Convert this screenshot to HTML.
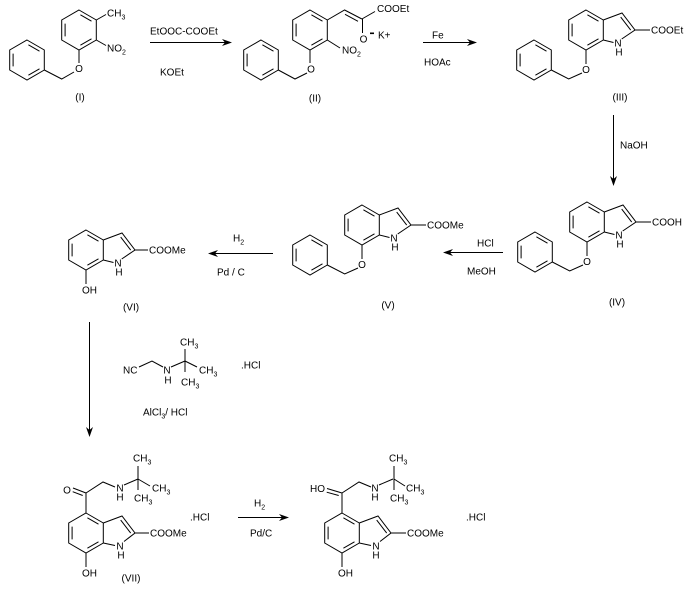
<!DOCTYPE html>
<html><head><meta charset="utf-8"><style>
html,body{margin:0;padding:0;background:#fff;}
svg{display:block;}
text{font-family:"Liberation Sans",Arial,sans-serif;font-size:10px;fill:#000;}
.m{text-anchor:middle;}
</style></head><body>
<svg width="688" height="595" viewBox="0 0 688 595" xmlns="http://www.w3.org/2000/svg">
<rect width="688" height="595" fill="#fff"/>
<g stroke="#000" stroke-width="1" fill="none">
<!-- I -->
<path d="M79,10 L96.3,20 L96.3,40 L79,50 L61.7,40 L61.7,20 Z M80.4,14.8 L91.5,21.2 M91.5,38.8 L80.4,45.2 M65.1,23.6 L65.1,36.4"/>
<path d="M96.3,20 L106,14.5 M96.3,40 L106,45.5 M79,50 L79,63 M74,72 L61.7,79 L44.3,70"/>
<path d="M27,40 L44.3,50 L44.3,70 L27,80 L9.7,70 L9.7,50 Z M28.4,44.8 L39.5,51.2 M39.5,68.8 L28.4,75.2 M13.1,53.6 L13.1,66.4"/>
<!-- II -->
<path d="M310,10 L327.3,20 L327.3,40 L310,50 L292.7,40 L292.7,20 Z M311.4,14.8 L322.5,21.2 M322.5,38.8 L311.4,45.2 M296.1,23.6 L296.1,36.4"/>
<path d="M327.3,20 L344.6,10 L361.9,19 M345,14.3 L358,21.3 M361.9,19 L375,11.5 M362.5,19 L362.5,33 M327.3,40 L340,48"/>
<path d="M310,50 L310,63 M307,73 L295,79 L278.3,70"/>
<path d="M261,40 L278.3,50 L278.3,70 L261,80 L243.7,70 L243.7,50 Z M262.4,44.8 L273.5,51.2 M273.5,68.8 L262.4,75.2 M247.1,53.6 L247.1,66.4"/>
<!-- III -->
<path d="M586,10 L603.3,20 L603.3,40 L586,50 L568.7,40 L568.7,20 Z M587.4,14.8 L598.5,21.2 M598.5,38.8 L587.4,45.2 M572.1,23.6 L572.1,36.4"/>
<path d="M603.3,20 L622,13 L635,30 L621.7,39 M603.3,40 L613.5,42.5 M620.7,17.1 L630.7,30.1 M635,30 L650,30"/>
<path d="M586,50 L586,64 M582,73 L568.7,79 L551.3,70"/>
<path d="M534,40 L551.3,50 L551.3,70 L534,80 L516.7,70 L516.7,50 Z M535.4,44.8 L546.5,51.2 M546.5,68.8 L535.4,75.2 M520.1,53.6 L520.1,66.4"/>
<!-- IV -->
<path d="M587,202 L604.3,212 L604.3,232 L587,242 L569.7,232 L569.7,212 Z M588.4,206.8 L599.5,213.2 M599.5,230.8 L588.4,237.2 M573.1,215.6 L573.1,228.4"/>
<path d="M604.3,212 L623,205 L636,222 L622.7,231 M604.3,232 L614.5,234.5 M621.7,209.1 L631.7,222.1 M636,222 L651,222"/>
<path d="M587,242 L587,256 M583,265 L569.7,271 L552.3,262"/>
<path d="M535,232 L552.3,242 L552.3,262 L535,272 L517.7,262 L517.7,242 Z M536.4,236.8 L547.5,243.2 M547.5,260.8 L536.4,267.2 M521.1,245.6 L521.1,258.4"/>
<!-- V -->
<path d="M362,205 L379.3,215 L379.3,235 L362,245 L344.7,235 L344.7,215 Z M363.4,209.8 L374.5,216.2 M374.5,233.8 L363.4,240.2 M348.1,218.6 L348.1,231.4"/>
<path d="M379.3,215 L398,208 L411,225 L397.7,234 M379.3,235 L389.5,237.5 M396.7,212.1 L406.7,225.1 M411,225 L426,225"/>
<path d="M362,245 L362,259 M358,268 L344.7,274 L327.3,265"/>
<path d="M310,235 L327.3,245 L327.3,265 L310,275 L292.7,265 L292.7,245 Z M311.4,239.8 L322.5,246.2 M322.5,263.8 L311.4,270.2 M296.1,248.6 L296.1,261.4"/>
<!-- VI -->
<path d="M86,230 L103.3,240 L103.3,260 L86,270 L68.7,260 L68.7,240 Z M87.4,234.8 L98.5,241.2 M98.5,258.8 L87.4,265.2 M72.1,243.6 L72.1,256.4"/>
<path d="M103.3,240 L122,233 L135,250 L121.7,259 M103.3,260 L113.5,262.5 M120.7,237.1 L130.7,250.1 M135,250 L148,250 M86,270 L86,284"/>
<!-- reagent -->
<path d="M139,367 L152,361 L163,367 M171,367 L185,361 M185,361 L185,349 M185,361 L197,367 M185,361 L185,372"/>
<!-- VII -->
<path d="M86,513 L103.3,523 L103.3,543 L86,553 L68.7,543 L68.7,523 Z M87.4,517.8 L98.5,524.2 M98.5,541.8 L87.4,548.2 M72.1,526.6 L72.1,539.4"/>
<path d="M103.3,523 L122,516 L135,533 L124,541.5 M103.3,543 L115,545.5 M120.7,520.1 L130.7,533.1 M135,533 L149,533 M86,553 L86,567"/>
<path d="M86,513 L86,493 M73,488 L86,493 M72.7,491.7 L82.7,495.5 M86,493 L103,482 L115,487 M124,485 L138,479 M138,479 L138,466 M138,479 L150,486 M138,479 L138,490"/>
<!-- VIII -->
<path d="M342,513 L359.3,523 L359.3,543 L342,553 L324.7,543 L324.7,523 Z M343.4,517.8 L354.5,524.2 M354.5,541.8 L343.4,548.2 M328.1,526.6 L328.1,539.4"/>
<path d="M359.3,523 L378,516 L391,533 L380,541.5 M359.3,543 L371,545.5 M376.7,520.1 L386.7,533.1 M391,533 L406,533 M342,553 L342,567"/>
<path d="M342,513 L342,493 M327,488.5 L342,493 M326.7,492.2 L338.7,495.5 M342,493 L359,482 L371,487 M379,485 L393,479 M394,479 L394,466 M394,479 L405,486 M394,479 L394,490"/>
<!-- arrows -->
<path d="M150,42.5 L226,42.5 M423,42.5 L471,42.5 M613.5,115 L613.5,180 M273,253.5 L214,253.5 M503,252.5 L449,252.5 M89.5,322 L89.5,430 M238,517.5 L282,517.5"/>
</g>
<g fill="#000" stroke="none">
<polygon points="232,42.5 222,39 225,42.5 222,46"/>
<polygon points="477,42.5 467,39 470,42.5 467,46"/>
<polygon points="613.5,186 610,176 613.5,179 617,176"/>
<polygon points="208,253.5 218,250 215,253.5 218,257"/>
<polygon points="443,252.5 453,249 450,252.5 453,256"/>
<polygon points="89.5,437 86,427 89.5,430 93,427"/>
<polygon points="289,517.5 279,514 282,517.5 279,521"/>
<rect x="370" y="32.5" width="4" height="1.6"/>
</g>
<!-- I texts -->
<text x="107" y="16.3">CH<tspan font-size="7" dy="3">3</tspan></text>
<text x="107" y="51.6">NO<tspan font-size="7" dy="3">2</tspan></text>
<text class="m" x="79" y="72">O</text>
<text class="m" x="80" y="100.6">(I)</text>
<text x="150" y="34.5">EtOOC-COOEt</text>
<text x="160" y="75.5">KOEt</text>
<!-- II texts -->
<text x="377" y="12">COOEt</text>
<text class="m" x="363.5" y="42.5">O</text>
<text x="378" y="38.5">K+</text>
<text x="342" y="53.5">NO<tspan font-size="7" dy="3">2</tspan></text>
<text class="m" x="311" y="72.5">O</text>
<text class="m" x="315" y="101.6">(II)</text>
<text x="432" y="38.5">Fe</text>
<text x="424" y="65.5">HOAc</text>
<!-- III texts -->
<text class="m" x="618" y="46.6">N</text>
<text class="m" x="619" y="55.6">H</text>
<text x="651" y="33.6">COOEt</text>
<text class="m" x="586" y="73">O</text>
<text class="m" x="620" y="100.6">(III)</text>
<text x="620" y="148.6">NaOH</text>
<!-- IV texts -->
<text class="m" x="619" y="238.6">N</text>
<text class="m" x="620" y="247.6">H</text>
<text x="652" y="225.6">COOH</text>
<text class="m" x="587" y="265">O</text>
<text class="m" x="617" y="305.6">(IV)</text>
<text x="477" y="246.6">HCl</text>
<text x="467" y="274.6">MeOH</text>
<!-- V texts -->
<text class="m" x="394" y="241.6">N</text>
<text class="m" x="395" y="250.6">H</text>
<text x="427" y="228.6">COOMe</text>
<text class="m" x="362" y="268">O</text>
<text class="m" x="388" y="308.6">(V)</text>
<text x="233" y="241.6">H<tspan font-size="7" dy="3">2</tspan></text>
<text x="217" y="275.6">Pd / C</text>
<!-- VI texts -->
<text class="m" x="118" y="266.6">N</text>
<text class="m" x="119" y="275.6">H</text>
<text x="149" y="253.6">COOMe</text>
<text x="82" y="293.6">OH</text>
<text class="m" x="131" y="310.6">(VI)</text>
<!-- reagent texts -->
<text x="123" y="373.6">NC</text>
<text class="m" x="167" y="373.6">N</text>
<text class="m" x="168" y="383.6">H</text>
<text x="180" y="345.6">CH<tspan font-size="7" dy="3">3</tspan></text>
<text x="199" y="373.6">CH<tspan font-size="7" dy="3">3</tspan></text>
<text x="181" y="385.6">CH<tspan font-size="7" dy="3">3</tspan></text>
<text x="241" y="368.6">.HCl</text>
<text x="143" y="415.6">AlCl<tspan font-size="7" dy="3">3</tspan><tspan dy="-3">/ HCl</tspan></text>
<!-- VII texts -->
<text class="m" x="67" y="493.6">O</text>
<text class="m" x="120" y="491.6">N</text>
<text class="m" x="120" y="500.6">H</text>
<text x="133" y="461.6">CH<tspan font-size="7" dy="3">3</tspan></text>
<text x="152" y="491.6">CH<tspan font-size="7" dy="3">3</tspan></text>
<text x="134" y="501.6">CH<tspan font-size="7" dy="3">3</tspan></text>
<text class="m" x="120" y="549.6">N</text>
<text class="m" x="121" y="558.6">H</text>
<text x="150" y="536.6">COOMe</text>
<text x="82" y="576.6">OH</text>
<text x="190" y="520.6">.HCl</text>
<text class="m" x="131" y="581.6">(VII)</text>
<text x="254" y="506.6">H<tspan font-size="7" dy="3">2</tspan></text>
<text x="250" y="536.6">Pd/C</text>
<!-- VIII texts -->
<text x="310" y="492">HO</text>
<text class="m" x="375" y="491.6">N</text>
<text class="m" x="375" y="500.6">H</text>
<text x="389" y="461.6">CH<tspan font-size="7" dy="3">3</tspan></text>
<text x="406" y="491.6">CH<tspan font-size="7" dy="3">3</tspan></text>
<text x="390" y="501.6">CH<tspan font-size="7" dy="3">3</tspan></text>
<text class="m" x="376" y="549.6">N</text>
<text class="m" x="376" y="558.6">H</text>
<text x="407" y="536.6">COOMe</text>
<text x="338" y="576.6">OH</text>
<text x="466" y="520.6">.HCl</text>
</svg>
</body></html>
